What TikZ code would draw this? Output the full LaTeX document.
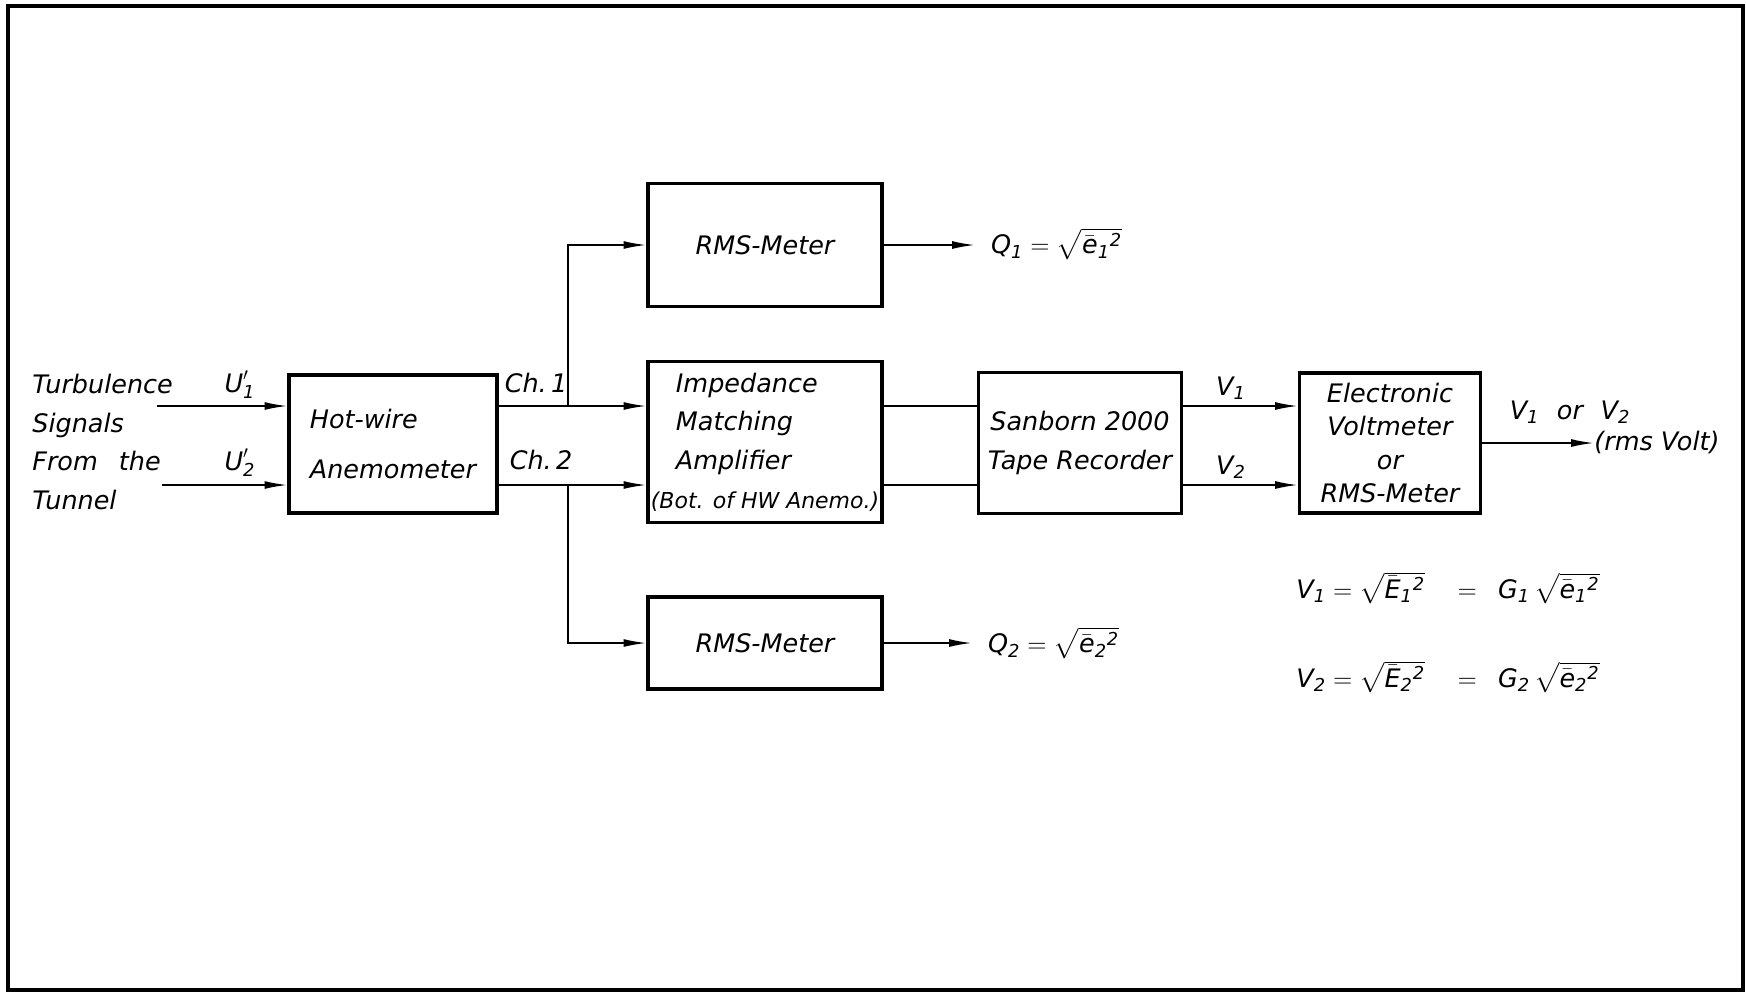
\documentclass[tikz,border=0pt]{standalone}
\usepackage{fontspec}
\usepackage{amsmath}
\setmainfont{DejaVu Sans}
\usetikzlibrary{arrows.meta}
\newcommand{\rmsof}[2]{\sqrt{\bar{\text{#1}}_{\text{#2}}{}^{\text{2}}}}
\newcommand{\ssub}[2]{\text{#1}_{\text{#2}}}
\begin{document}
\begin{tikzpicture}[
		x=0.02cm, y=-0.02cm,
		every node/.style={font=\fontsize{14.5pt}{22pt}\selectfont\itshape, inner sep=0pt},
		blk/.style={draw, line width=1.8pt, align=center},
		wire/.style={line width=1pt},
		arr/.style={wire, -{Latex[length=13pt,width=4.5pt]}},
		qlabel/.style={anchor=west, inner xsep=9pt}
	]
		\useasboundingbox (0,0) rectangle (1746,992);
		\draw[line width=2.2pt] (8,6) rectangle (1743,990);

		% blocks
		\node[blk, minimum width=4.16cm, minimum height=2.76cm, align=left,
			font=\fontsize{14.5pt}{28pt}\selectfont\itshape] (hotwire) at (393,444) {Hot-wire\\Anemometer};
		\node[blk, minimum width=4.68cm, minimum height=2.46cm] (rmsa) at (765,245) {RMS-Meter};
		\node[blk, minimum width=4.68cm, minimum height=3.22cm, align=left] (imp) at (765,442)
			{\hspace*{0.5cm}Impedance\\\hspace*{0.5cm}Matching\\\hspace*{0.5cm}Amplifier\\{\fontsize{12.5pt}{22pt}\selectfont(Bot. of HW Anemo.)}};
		\node[blk, minimum width=4.68cm, minimum height=1.84cm] (rmsb) at (765,643) {RMS-Meter};
		\node[blk, minimum width=4.06cm, minimum height=2.82cm] (tape) at (1080,443) {Sanborn 2000\\Tape Recorder};
		\node[blk, minimum width=3.62cm, minimum height=2.8cm,
			font=\fontsize{14.5pt}{19pt}\selectfont\itshape] (evm) at (1390,443) {Electronic\\Voltmeter\\or\\RMS-Meter};

		% inputs
		\node[anchor=west, align=left] (src) at (32,442) {Turbulence\\Signals\\From\hspace{12pt}the\\Tunnel};
		\coordinate (in1) at (157,406);
		\coordinate (in2) at (162,485);
		\draw[arr] (in1) -- (in1 -| hotwire.west);
		\draw[arr] (in2) -- (in2 -| hotwire.west);
		\node (u1) at (240,385) {$\ssub{U}{1}'$};
		\node (u2) at (240,463) {$\ssub{U}{2}'$};

		% channels
		\coordinate (j1) at (568,406);
		\coordinate (j2) at (568,485);
		\draw[arr] (hotwire.east |- in1) -- (imp.west |- in1);
		\draw[arr] (hotwire.east |- in2) -- (imp.west |- in2);
		\draw[arr] (j1) |- (rmsa.west);
		\draw[arr] (j2) |- (rmsb.west);
		\node (ch1) at (536,383) {Ch.\,1};
		\node (ch2) at (541,460) {Ch.\,2};

		\node[qlabel] (q1) at (975,244) {$\ssub{Q}{1} = \rmsof{e}{1}$};
		\node[qlabel] (q2) at (972,643) {$\ssub{Q}{2} = \rmsof{e}{2}$};
		\draw[arr] (rmsa.east) -- (rmsa.east -| q1.west);
		\draw[arr] (rmsb.east) -- (rmsb.east -| q2.west);

		% recorder and voltmeter
		\draw[wire] (imp.east |- in1) -- (tape.west |- in1);
		\draw[wire] (imp.east |- in2) -- (tape.west |- in2);
		\draw[arr] (tape.east |- in1) -- (evm.west |- in1);
		\draw[arr] (tape.east |- in2) -- (evm.west |- in2);
		\node (v1) at (1231,388) {$\ssub{V}{1}$};
		\node (v2) at (1231,467) {$\ssub{V}{2}$};

		\node[anchor=west] (unit) at (1594,442) {(rms Volt)};
		\draw[arr] (evm.east) -- (evm.east -| unit.west);
		\node (vout) at (1570,412) {$\ssub{V}{1}$\hspace{10pt}or\hspace{10pt}$\ssub{V}{2}$};

		% gains
		\node[anchor=west] (eqa) at (1296,588) {$\ssub{V}{1} = \rmsof{E}{1} \quad = \;\; \ssub{G}{1}\,\rmsof{e}{1}$};
		\node[anchor=west] (eqb) at (1296,677) {$\ssub{V}{2} = \rmsof{E}{2} \quad = \;\; \ssub{G}{2}\,\rmsof{e}{2}$};
\end{tikzpicture}
\end{document}
